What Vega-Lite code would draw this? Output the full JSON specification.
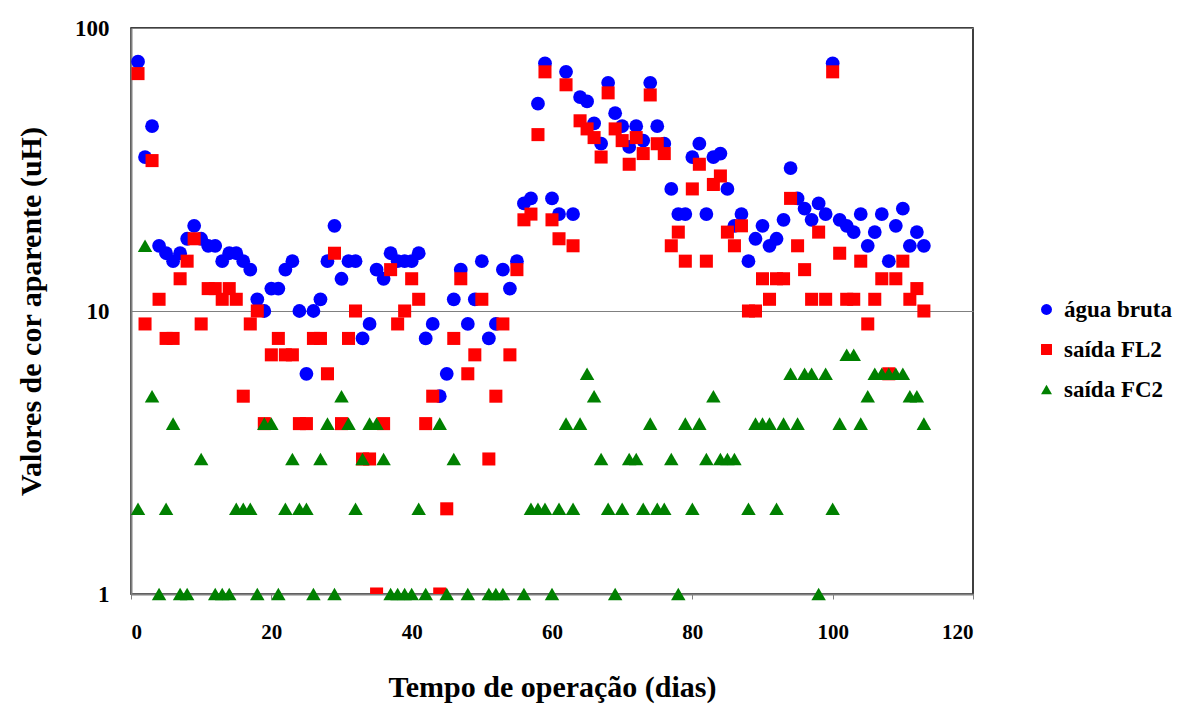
{
  "$schema": "https://vega.github.io/schema/vega-lite/v6.json",
  "autosize": "none",
  "width": 842,
  "height": 566,
  "padding": {"left": 131, "top": 28, "right": 224, "bottom": 115},
  "background": "white",
  "config": {
    "view": {"stroke": "black", "strokeWidth": 1.5},
    "font": "Liberation Serif",
    "legend": {
      "labelFont": "Liberation Serif, Times New Roman, serif", "labelFontSize": 23, "labelFontWeight": "bold", "labelColor": "black",
      "symbolSize": 120, "rowPadding": 16, "labelOffset": 6, "symbolStrokeWidth": 0
    }
  },
  "datasets": {
    "agua": [[1,76],[2,35],[3,45],[4,17],[5,16],[6,15],[7,16],[8,18],[9,20],[10,18],[11,17],[12,17],[13,15],[14,16],[15,16],[16,15],[17,14],[18,11],[19,10],[20,12],[21,12],[22,14],[23,15],[24,10],[25,6],[26,10],[27,11],[28,15],[29,20],[30,13],[31,15],[32,15],[33,8],[34,9],[35,14],[36,13],[37,16],[38,15],[39,15],[40,15],[41,16],[42,8],[43,9],[44,5],[45,6],[46,11],[47,14],[48,9],[49,11],[50,15],[51,8],[52,9],[53,14],[54,12],[55,15],[56,24],[57,25],[58,54],[59,75],[60,25],[61,22],[62,70],[63,22],[64,57],[65,55],[66,46],[67,39],[68,64],[69,50],[70,45],[71,38],[72,45],[73,40],[74,64],[75,45],[76,39],[77,27],[78,22],[79,22],[80,35],[81,39],[82,22],[83,35],[84,36],[85,27],[86,20],[87,22],[88,15],[89,18],[90,20],[91,17],[92,18],[93,21],[94,32],[95,25],[96,23],[97,21],[98,24],[99,22],[100,75],[101,21],[102,20],[103,19],[104,22],[105,17],[106,19],[107,22],[108,15],[109,20],[110,23],[111,17],[112,19],[113,17]],
    "fl2": [[1,69],[2,9],[3,34],[4,11],[5,8],[6,8],[7,13],[8,15],[9,18],[10,9],[11,12],[12,12],[13,11],[14,12],[15,11],[16,5],[17,9],[18,10],[19,4],[20,7],[21,8],[22,7],[23,7],[24,4],[25,4],[26,8],[27,8],[28,6],[29,16],[30,4],[31,8],[32,10],[33,3],[34,3],[35,1],[36,4],[37,14],[38,9],[39,10],[40,13],[41,11],[42,4],[43,5],[44,1],[45,2],[46,8],[47,13],[48,6],[49,7],[50,11],[51,3],[52,5],[53,9],[54,7],[55,14],[56,21],[57,22],[58,42],[59,70],[60,21],[61,18],[62,63],[63,17],[64,47],[65,44],[66,41],[67,35],[68,59],[69,44],[70,40],[71,33],[72,41],[73,36],[74,58],[75,39],[76,36],[77,17],[78,19],[79,15],[80,27],[81,33],[82,15],[83,28],[84,30],[85,19],[86,17],[87,20],[88,10],[89,10],[90,13],[91,11],[92,13],[93,13],[94,25],[95,17],[96,14],[97,11],[98,19],[99,11],[100,70],[101,16],[102,11],[103,11],[104,15],[105,9],[106,11],[107,13],[108,6],[109,13],[110,15],[111,11],[112,12],[113,10]],
    "fc2": [[1,2],[2,17],[3,5],[4,1],[5,2],[6,4],[7,1],[8,1],[10,3],[12,1],[13,1],[14,1],[15,2],[16,2],[17,2],[18,1],[19,4],[20,4],[21,1],[22,2],[23,3],[24,2],[25,2],[26,1],[27,3],[28,4],[29,1],[30,5],[31,4],[32,2],[33,3],[34,4],[35,4],[36,3],[37,1],[38,1],[39,1],[40,1],[41,2],[42,1],[44,4],[45,1],[46,3],[48,1],[51,1],[52,1],[53,1],[56,1],[57,2],[58,2],[59,2],[60,1],[61,2],[62,4],[63,2],[64,4],[65,6],[66,5],[67,3],[68,2],[69,1],[70,2],[71,3],[72,3],[73,2],[74,4],[75,2],[76,2],[77,3],[78,1],[79,4],[80,2],[81,4],[82,3],[83,5],[84,3],[85,3],[86,3],[88,2],[89,4],[90,4],[91,4],[92,2],[93,4],[94,6],[95,4],[96,6],[97,6],[98,1],[99,6],[100,2],[101,4],[102,7],[103,7],[104,4],[105,5],[106,6],[107,6],[108,6],[109,6],[110,6],[111,5],[112,5],[113,4]]
  },
  "data": {"values": []},
  "layer": [
    {
      "data": {"name": "agua"},
      "transform": [
        {"calculate": "'água bruta'", "as": "serie"},
        {"calculate": "datum[0]", "as": "dia"},
        {"calculate": "datum[1]", "as": "valor"}
      ],
      "mark": {"type": "point", "filled": true, "opacity": 1, "size": 190, "clip": true},
      "encoding": {
        "x": {"field": "dia", "type": "quantitative"},
        "y": {"field": "valor", "type": "quantitative"},
        "color": {"field": "serie", "type": "nominal"},
        "shape": {"field": "serie", "type": "nominal"}
      }
    },
    {
      "data": {"name": "fl2"},
      "transform": [
        {"calculate": "'saída FL2'", "as": "serie"},
        {"calculate": "datum[0]", "as": "dia"},
        {"calculate": "datum[1]", "as": "valor"}
      ],
      "mark": {"type": "point", "filled": true, "opacity": 1, "size": 170, "clip": true},
      "encoding": {
        "x": {"field": "dia", "type": "quantitative"},
        "y": {"field": "valor", "type": "quantitative"},
        "color": {"field": "serie", "type": "nominal"},
        "shape": {"field": "serie", "type": "nominal"}
      }
    },
    {
      "data": {"name": "fc2"},
      "transform": [
        {"calculate": "'saída FC2'", "as": "serie"},
        {"calculate": "datum[0]", "as": "dia"},
        {"calculate": "datum[1]", "as": "valor"}
      ],
      "mark": {"type": "point", "filled": true, "opacity": 1, "size": 210, "clip": false},
      "encoding": {
        "x": {
          "field": "dia", "type": "quantitative",
          "scale": {"domain": [0, 120], "nice": false},
          "axis": {"values": [0, 20, 40, 60, 80, 100, 120], "title": "Tempo de operação (dias)", "grid": false,
            "domainColor": "#808080", "domainWidth": 2, "tickColor": "#808080", "tickSize": 5,
            "labelFont": "Liberation Serif", "labelFontSize": 21, "labelFontWeight": "bold", "labelColor": "black", "labelPadding": 22,
            "titleFont": "Liberation Serif", "titleFontSize": 30, "titleFontWeight": "bold", "titleColor": "black", "titlePadding": 30}
        },
        "y": {
          "field": "valor", "type": "quantitative",
          "scale": {"type": "log", "domain": [1, 100], "nice": false},
          "axis": {"values": [1, 10, 100], "title": "Valores de cor aparente (uH)", "grid": true, "gridColor": "#808080", "gridWidth": 1,
            "domainColor": "#808080", "domainWidth": 2, "ticks": false, "format": "d",
            "labelFont": "Liberation Serif", "labelFontSize": 23, "labelFontWeight": "bold", "labelColor": "black", "labelPadding": 22,
            "titleFont": "Liberation Serif", "titleFontSize": 30, "titleFontWeight": "bold", "titleColor": "black", "titlePadding": 28}
        },
        "color": {
          "field": "serie", "type": "nominal",
          "scale": {"domain": ["água bruta", "saída FL2", "saída FC2"], "range": ["#0000FF", "#FF0000", "#008000"]},
          "legend": {"title": null, "orient": "none", "legendX": 904, "legendY": 270,
            "labelFont": "Liberation Serif, Times New Roman, serif", "labelFontSize": 23, "labelFontWeight": "bold", "labelColor": "black",
            "symbolSize": 120, "rowPadding": 16, "labelOffset": 6, "symbolStrokeWidth": 0}
        },
        "shape": {
          "field": "serie", "type": "nominal",
          "scale": {"domain": ["água bruta", "saída FL2", "saída FC2"], "range": ["circle", "square", "triangle-up"]},
          "legend": {"title": null, "orient": "none", "legendX": 904, "legendY": 270,
            "labelFont": "Liberation Serif, Times New Roman, serif", "labelFontSize": 23, "labelFontWeight": "bold", "labelColor": "black",
            "symbolSize": 120, "rowPadding": 16, "labelOffset": 6, "symbolStrokeWidth": 0}
        }
      }
    }
  ]
}
